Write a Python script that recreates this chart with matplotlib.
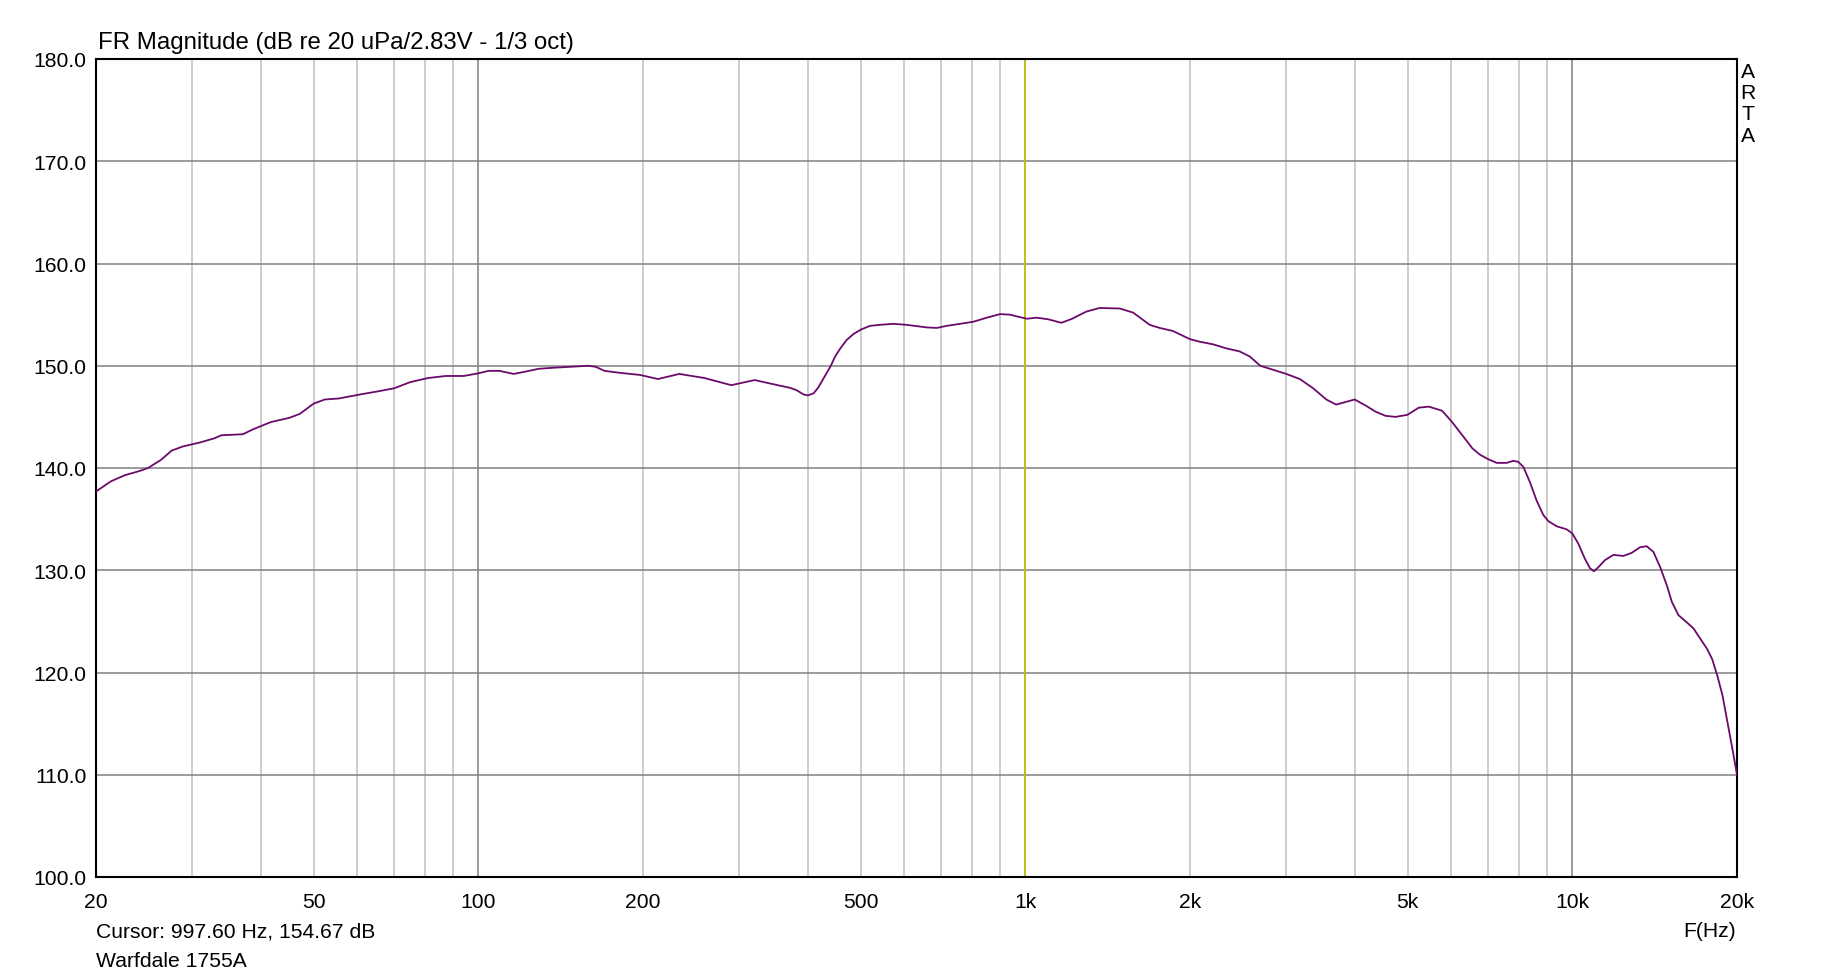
import matplotlib
matplotlib.use("Agg")
import matplotlib.pyplot as plt

plt.rcParams['font.family'] = ['Liberation Sans', 'DejaVu Sans']

# frequency response (Hz, dB)
freq = [20.0, 21.3, 22.6, 24.0, 24.9, 26.3, 27.5, 28.8, 31.0, 32.9, 33.9, 37.1,
        38.8, 41.8, 45.1, 47.2, 50.0, 52.4, 55.6, 60.9, 65.6, 70.2, 75.1, 80.9,
        87.2, 94.0, 99.8, 104.4, 109.3, 116.0, 121.3, 128.8, 136.8, 147.5,
        159.0, 163.8, 170.1, 181.9, 197.6, 213, 233, 259, 290, 320, 356, 371,
        382, 393, 400, 410, 418, 427, 440, 449, 459, 471, 485, 501, 520, 542,
        574, 607, 660, 689, 718, 760, 803, 850, 899, 937, 978, 1006, 1049,
        1100, 1164, 1218, 1293, 1367, 1488, 1574, 1688, 1760, 1861, 2000, 2083,
        2202, 2331, 2465, 2573, 2688, 2841, 3000, 3176, 3358, 3550, 3700, 4000,
        4192, 4371, 4557, 4752, 4994, 5239, 5467, 5780, 6027, 6294, 6571, 6780,
        7024, 7274, 7585, 7800, 7966, 8138, 8368, 8606, 8851, 9041, 9362, 9764,
        10000, 10256, 10548, 10772, 10955, 11157, 11478, 11886, 12393, 12836,
        13297, 13677, 14066, 14476, 14890, 15204, 15637, 16193, 16657, 17138,
        17635, 18017, 18408, 18808, 19218, 19637, 20000]
spl = [137.7, 138.7, 139.3, 139.7, 140.0, 140.8, 141.7, 142.1, 142.5, 142.9,
       143.2, 143.3, 143.8, 144.5, 144.9, 145.3, 146.3, 146.7, 146.8, 147.2,
       147.5, 147.8, 148.4, 148.8, 149.0, 149.0, 149.25, 149.5, 149.5, 149.2,
       149.4, 149.7, 149.8, 149.9, 150.0, 149.9, 149.5, 149.3, 149.1, 148.7,
       149.2, 148.8, 148.1, 148.6, 148.05, 147.85, 147.6, 147.2, 147.1, 147.3,
       147.85, 148.7, 149.9, 150.9, 151.7, 152.5, 153.1, 153.55, 153.9, 154.0,
       154.1, 154.0, 153.75, 153.7, 153.9, 154.1, 154.3, 154.7, 155.05, 155.0,
       154.75, 154.6, 154.7, 154.55, 154.2, 154.6, 155.3, 155.65, 155.6, 155.2,
       154.0, 153.7, 153.4, 152.6, 152.35, 152.1, 151.7, 151.4, 150.9, 150.0,
       149.6, 149.2, 148.7, 147.8, 146.7, 146.2, 146.7, 146.1, 145.5, 145.1,
       145.0, 145.2, 145.9, 146.0, 145.6, 144.5, 143.2, 141.9, 141.3, 140.85,
       140.5, 140.5, 140.7, 140.6, 140.1, 138.6, 136.8, 135.4, 134.8, 134.3,
       134.0, 133.6, 132.6, 131.1, 130.2, 129.9, 130.3, 131.0, 131.5, 131.4,
       131.7, 132.25, 132.35, 131.8, 130.3, 128.5, 126.9, 125.6, 124.9, 124.3,
       123.3, 122.3, 121.3, 119.7, 117.8, 115.1, 112.4, 110.0]

xtick_vals = [20, 50, 100, 200, 500, 1000, 2000, 5000, 10000, 20000]
xtick_labels = ['20', '50', '100', '200', '500', '1k', '2k', '5k', '10k', '20k']
ytick_vals = [100, 110, 120, 130, 140, 150, 160, 170, 180]
cursor_f = 997.60
cursor_db = 154.67

fig = plt.figure(figsize=(18.33, 9.78), dpi=100)
ax = fig.add_axes([96/1833, 100/978, 1641/1833, 818/978])

# grid: light lines at 2..9 of each decade, darker at decades
for dec in [10, 100, 1000, 10000]:
    for m in range(1, 10):
        f = dec*m
        if f <= 20 or f >= 20000:
            continue
        col = '#808080' if m == 1 else '#C0C0C0'
        ax.axvline(f, color=col, lw=1.1, zorder=1)
for v in ytick_vals[1:-1]:
    ax.axhline(v, color='#808080', lw=1.1, zorder=1)

ax.axvline(cursor_f, color='#C8C800', lw=1.2, zorder=2)
ax.plot(freq, spl, color='#6B0A6B', lw=1.3, zorder=3)

ax.set_xscale('log')
ax.set_xlim(20, 20000)
ax.set_ylim(100, 180)
ax.set_xticks(xtick_vals)
ax.set_xticklabels(xtick_labels)
ax.xaxis.set_minor_locator(matplotlib.ticker.NullLocator())
ax.set_yticks(ytick_vals)
ax.set_yticklabels(['%.1f' % v for v in ytick_vals])
ax.tick_params(length=0, labelsize=15.2, colors='black')
ax.tick_params(axis='x', pad=11)
ax.tick_params(axis='y', pad=7)
for s in ax.spines.values():
    s.set_color('black')
    s.set_linewidth(1.5)

fig.text(98/1833, 1-43/978, 'FR Magnitude (dB re 20 uPa/2.83V - 1/3 oct)',
         fontsize=17.3, va='center', ha='left')
fig.text(96/1833, 1-932/978, 'Cursor: %.2f Hz, %.2f dB' % (cursor_f, cursor_db),
         fontsize=15.2, va='center', ha='left')
fig.text(96/1833, 1-962/978, 'Warfdale 1755A', fontsize=15.2, va='center',
         ha='left')
fig.text(1736/1833, 1-932/978, 'F(Hz)', fontsize=15.2, va='center', ha='right')
fig.text(1748/1833, 1-63/978, 'A\nR\nT\nA', fontsize=15.2, va='top',
         ha='center', linespacing=1.15)

fig.savefig('out.png', dpi=100, facecolor='white')
